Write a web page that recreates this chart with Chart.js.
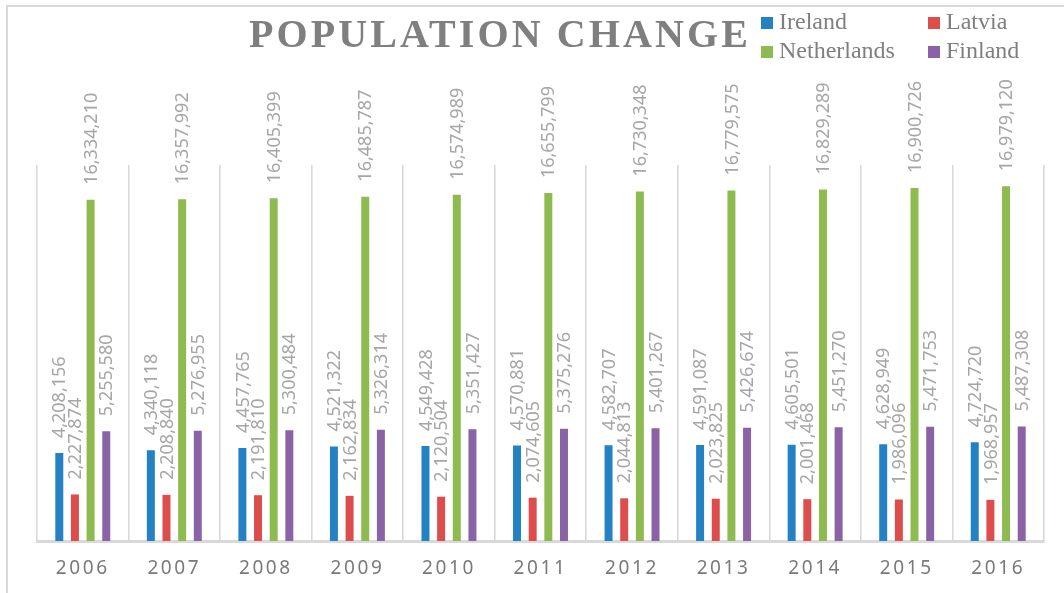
<!DOCTYPE html>
<html>
<head>
<meta charset="utf-8">
<script src="https://cdn.jsdelivr.net/npm/chart.js@4.4.1/dist/chart.umd.min.js"></script>
<style>
  html, body { margin: 0; padding: 0; background: #ffffff; }
  #wrap { position: relative; width: 1064px; height: 593px; overflow: hidden; background: #fff; }
  #frame { position: absolute; left: 6px; top: 5px; width: 1100px; height: 640px; border: 2px solid #d9d9d9; box-sizing: border-box; }
  #c { position: absolute; left: 0; top: 0; }
  #title { position: absolute; left: 249px; top: 14px; font-family: "Liberation Serif", "Times New Roman", serif; font-weight: bold; font-size: 40px; line-height: 40px; letter-spacing: 3.1px; color: #7f7f7f; white-space: nowrap; }
  .lg { position: absolute; font-family: "Liberation Serif", "Times New Roman", serif; font-size: 24px; line-height: 24px; color: #7f7f7f; white-space: nowrap; }
  .mk { position: absolute; width: 12px; height: 12px; }
</style>
</head>
<body>
<div id="wrap">
  <div id="frame"></div>
  <canvas id="c" width="1064" height="593"></canvas>
  <div id="title">POPULATION CHANGE</div>
  <div id="legend"></div>
</div>
<script>
const years = ['2006','2007','2008','2009','2010','2011','2012','2013','2014','2015','2016'];
const seriesNames = ['Ireland','Latvia','Netherlands','Finland'];
const seriesColors = ['#2481c3','#dc4d4c','#8dbb50','#8963a5'];
const ireland = [4208156,4340118,4457765,4521322,4549428,4570881,4582707,4591087,4605501,4628949,4724720];
const latvia = [2227874,2208840,2191810,2162834,2120504,2074605,2044813,2023825,2001468,1986096,1968957];
const netherlands = [16334210,16357992,16405399,16485787,16574989,16655799,16730348,16779575,16829289,16900726,16979120];
const finland = [5255580,5276955,5300484,5326314,5351427,5375276,5401267,5426674,5451270,5471753,5487308];
const seriesValues = [ireland, latvia, netherlands, finland];

// HTML legend (two columns)
const legend = document.getElementById('legend');
const colX = [761, 928];
const rowBase = [29, 58];
seriesNames.forEach((name, i) => {
  const col = i % 2, row = Math.floor(i / 2);
  const mk = document.createElement('div');
  mk.className = 'mk';
  mk.style.background = seriesColors[i];
  mk.style.left = colX[col] + 'px';
  mk.style.top = (rowBase[row] - 12) + 'px';
  legend.appendChild(mk);
  const t = document.createElement('div');
  t.className = 'lg';
  t.textContent = name;
  t.style.left = (colX[col] + 18) + 'px';
  t.style.top = (rowBase[row] - 20) + 'px';
  legend.appendChild(t);
});

const fmt = new Intl.NumberFormat('en-US');

const labelPlugin = {
  id: 'barLabels',
  beforeDraw(chart) {
    chart.ctx.letterSpacing = '2.6px';
  },
  beforeDatasetsDraw(chart) {
    chart.ctx.letterSpacing = '0px';
  },
  afterDatasetsDraw(chart) {
    const ctx = chart.ctx;
    ctx.save();
    ctx.letterSpacing = '0px';
    ctx.font = '18px "Noto Sans", "Open Sans", sans-serif';
    ctx.fillStyle = '#a6a6a6';
    ctx.textAlign = 'left';
    ctx.textBaseline = 'middle';
    chart.data.datasets.forEach((ds, di) => {
      const meta = chart.getDatasetMeta(di);
      meta.data.forEach((bar, i) => {
        ctx.save();
        ctx.translate(bar.x + 1, bar.y - 15);
        ctx.rotate(-Math.PI / 2);
        ctx.fillText(fmt.format(ds.data[i]), 0, 0);
        ctx.restore();
      });
    });
    ctx.restore();
  }
};

new Chart(document.getElementById('c'), {
  type: 'bar',
  data: {
    labels: years,
    datasets: seriesNames.map((n, i) => ({
      label: n,
      data: seriesValues[i],
      backgroundColor: seriesColors[i],
      borderWidth: 0,
      categoryPercentage: 0.684,
      barPercentage: 0.51
    }))
  },
  options: {
    responsive: false,
    devicePixelRatio: 1,
    animation: false,
    layout: { padding: { left: 37, right: 20, top: 165, bottom: 0 } },
    plugins: { legend: { display: false }, title: { display: false }, tooltip: { enabled: false } },
    scales: {
      x: {
        grid: { display: true, offset: true, color: '#d9d9d9', lineWidth: 1.6, drawTicks: false },
        border: { display: true, color: '#d9d9d9', width: 3 },
        ticks: { color: '#7a7a7a', font: { family: '"Noto Sans", "Open Sans", sans-serif', size: 19 }, padding: 16, maxRotation: 0 },
        afterFit(scale) { scale.height = 52; }
      },
      y: { display: false, min: 0, max: 18000000 }
    }
  },
  plugins: [labelPlugin]
});
</script>
</body>
</html>
